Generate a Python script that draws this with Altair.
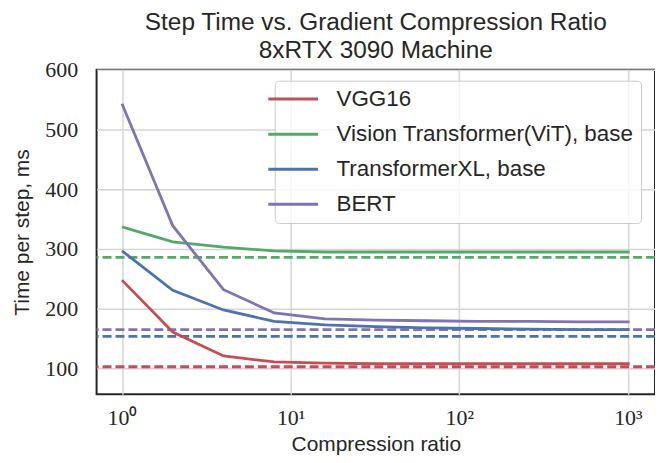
import altair as alt
import pandas as pd

ratios = [1, 2, 4, 8, 16, 32, 64, 128, 256, 512, 1024]
models = ["VGG16", "Vision Transformer(ViT), base", "TransformerXL, base", "BERT"]
colors = ["#C44E52", "#55A868", "#4C72B0", "#8172B2"]
vgg16 = [248, 161, 121, 111, 109, 108, 108, 108, 108, 108, 108]
vit = [337, 312, 303, 297, 295, 295, 295, 295, 295, 295, 295]
txl = [297, 231, 198, 179, 173, 170, 168, 167, 166, 165, 165]
bert = [543, 339, 232, 193, 183, 181, 180, 179, 179, 178, 178]
baselines = [103, 286, 154, 165]

series = [vgg16, vit, txl, bert]
rows = []
for m, vals in zip(models, series):
    for r, v in zip(ratios, vals):
        rows.append({"ratio": r, "time": v, "model": m})
df = pd.DataFrame(rows)
base_df = pd.DataFrame({"model": models, "time": baselines})

legend = alt.Legend(
    orient="none", legendX=179, legendY=11,
    symbolType="M-2.5,0H2.5", symbolSize=400, symbolStrokeWidth=3,
    symbolDash=[1, 0], symbolFillColor="transparent",
    labelFontSize=22.5, labelFont="Liberation Sans", labelColor="#262626",
    labelOffset=32, labelLimit=0, rowPadding=12.2,
    padding=7, fillColor="rgba(255,255,255,0.8)", strokeColor="#cccccc",
    cornerRadius=4,
)
color = alt.Color(
    "model:N",
    scale=alt.Scale(domain=models, range=colors),
    sort=models,
    title=None,
    legend=legend,
)

xscale = alt.Scale(type="log", domain=[0.707, 1448], nice=False)
yscale = alt.Scale(domain=[57, 600], nice=False, zero=False)

lines = alt.Chart(df).mark_line(strokeWidth=2.8, clip=True).encode(
    x=alt.X("ratio:Q", scale=xscale, title="Compression ratio",
            axis=alt.Axis(values=[1, 10, 100, 1000],
                          labelExpr="datum.value == 1 ? '10⁰' : datum.value == 10 ? '10¹' : datum.value == 100 ? '10²' : '10³'")),
    y=alt.Y("time:Q", scale=yscale, title="Time per step, ms",
            axis=alt.Axis(values=[100, 200, 300, 400, 500, 600])),
    color=color,
)

rules = alt.Chart(base_df).mark_rule(strokeWidth=2.8, strokeDash=[9, 4]).encode(
    y=alt.Y("time:Q", scale=yscale),
    color=color,
)

chart = alt.layer(rules, lines).properties(
    width=561, height=326,
    title=alt.TitleParams(["Step Time vs. Gradient Compression Ratio", "8xRTX 3090 Machine"],
                          fontSize=24.5, font="Liberation Sans", fontWeight="normal",
                          color="#262626", lineHeight=28, offset=-5),
    autosize=alt.AutoSizeParams(type="none"),
    padding={"left": 89, "top": 61, "right": 0, "bottom": 60},
).configure_view(
    stroke="#262626", strokeWidth=2,
).configure_axis(
    grid=True, gridColor="#d5d5d5", gridWidth=1.5,
    domain=False, ticks=False,
    titleFont="Liberation Sans", titleFontSize=21, titleFontWeight="normal", titleColor="#262626",
    labelFont="Liberation Serif", labelFontSize=22, labelColor="#262626",
).configure_axisY(
    labelPadding=19, titlePadding=12,
).configure_axisX(
    labelPadding=13, titlePadding=6,
)

chart.save("out.html", embed_options={"renderer": "svg", "actions": False})
